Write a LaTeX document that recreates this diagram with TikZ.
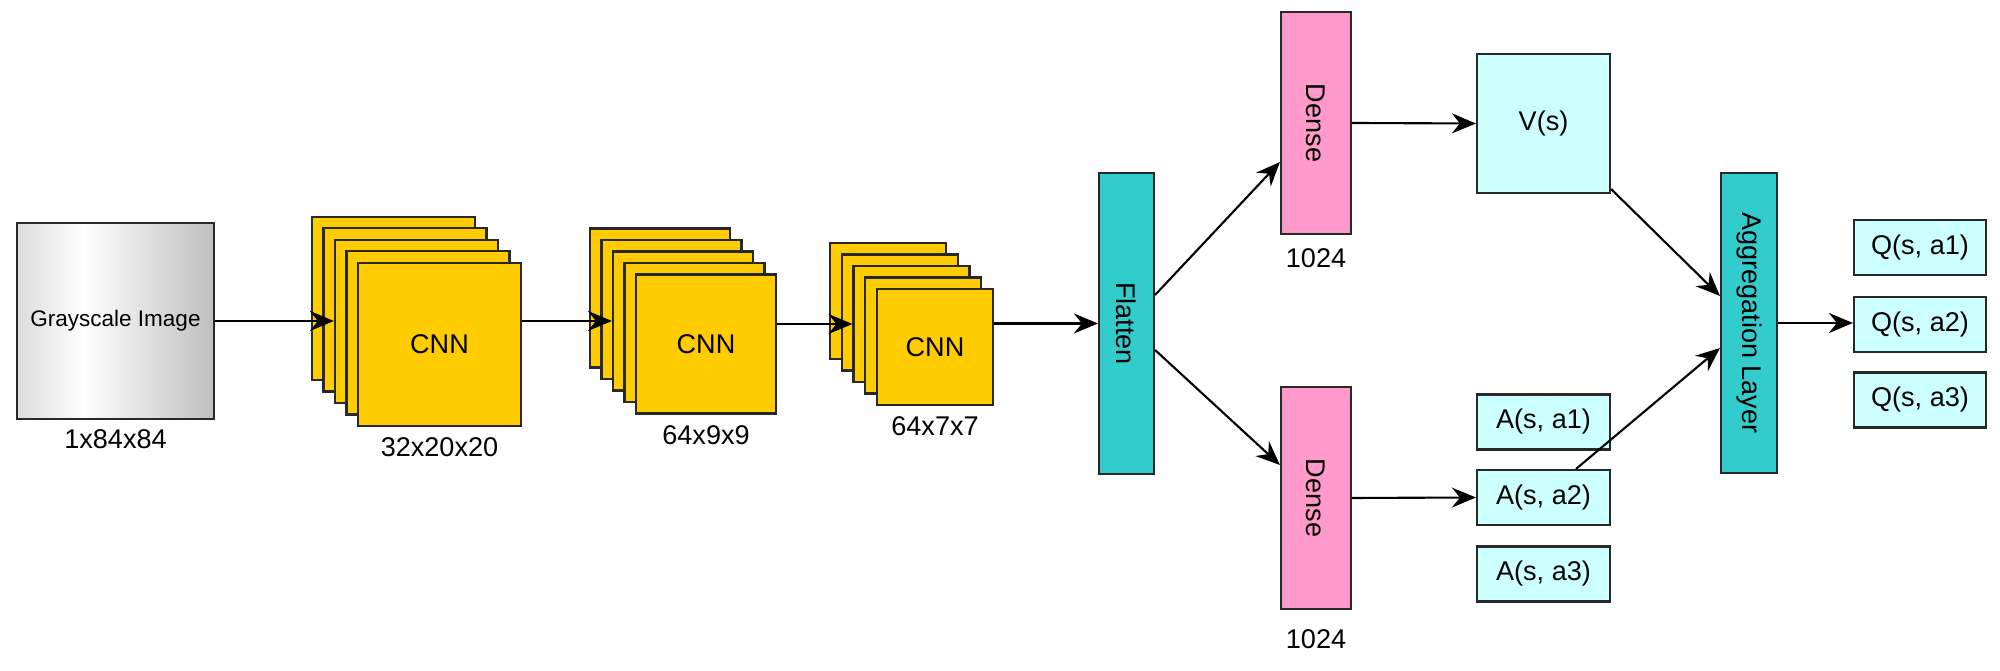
\documentclass[tikz,border=0pt]{standalone}
\usepackage{fontspec}
\setmainfont{Liberation Sans}
\usepackage{xcolor}
\usepackage{graphicx}
\usetikzlibrary{arrows.meta}
\definecolor{cnnColor}{RGB}{255, 204, 0}
\definecolor{denseColor}{RGB}{255, 153, 204}
\definecolor{layerColor}{RGB}{51, 204, 204}
\definecolor{outColor}{RGB}{204, 255, 255}
\definecolor{lineColor}{RGB}{40, 40, 40}
\definecolor{imgLeft}{RGB}{220, 220, 220}
\definecolor{imgRight}{RGB}{190, 190, 190}
\pgfdeclarehorizontalshading{grayImage}{100bp}{color(0bp)=(imgLeft); color(25bp)=(imgLeft); color(42bp)=(white); color(75bp)=(imgRight); color(100bp)=(imgRight)}

\begin{document}
\begin{tikzpicture}[x=0.01cm, y=-0.01cm, font=\fontsize{7.7}{9}\selectfont,
    box/.style={rectangle, draw=lineColor, line width=0.6pt, inner sep=0pt},
    cnn/.style={box, fill=cnnColor},
    dense/.style={box, fill=denseColor, minimum width=0.70cm, minimum height=2.22cm},
    layer/.style={box, fill=layerColor, minimum width=0.56cm, minimum height=3.0cm},
    qval/.style={box, fill=outColor, minimum width=1.32cm, minimum height=0.55cm},
    arr/.style={-{Stealth[length=0.24cm, width=0.2cm, inset=0.08cm]}, line width=0.6pt}]
    \useasboundingbox (0,0) rectangle (2000,671);

    % Input image
    \node[box, shading=grayImage, minimum width=1.97cm, minimum height=1.96cm] (gray) at (115.5,321) {\fontsize{6.4}{8}\selectfont Grayscale Image};
    \node (lgray) at (115.5,439) {1x84x84};

    % Convolution stacks
    \foreach \k in {0,...,3} {
        \node[cnn, minimum width=1.63cm, minimum height=1.63cm] (c1l\k) at ({393.5+11.5*\k},{298.5+11.5*\k}) {};
    }
    \node[cnn, minimum width=1.63cm, minimum height=1.63cm] (c1) at (439.5,344.5) {CNN};
    \node (lc1) at (439.5,447) {32x20x20};

    \foreach \k in {0,...,3} {
        \node[cnn, minimum width=1.40cm, minimum height=1.39cm] (c2l\k) at ({660+11.5*\k},{298+11.5*\k}) {};
    }
    \node[cnn, minimum width=1.40cm, minimum height=1.39cm] (c2) at (706,344) {CNN};
    \node (lc2) at (706,435) {64x9x9};

    \foreach \k in {0,...,3} {
        \node[cnn, minimum width=1.16cm, minimum height=1.16cm] (c3l\k) at ({888+11.75*\k},{301+11.5*\k}) {};
    }
    \node[cnn, minimum width=1.16cm, minimum height=1.16cm] (c3) at (935,347) {CNN};
    \node (lc3) at (935,426) {64x7x7};

    % Dueling heads
    \node[layer, minimum height=3.01cm, minimum width=0.55cm] (flat) at (1126.5,323.5) {\rotatebox{-90}{Flatten}};
    \node[dense] (denseV) at (1316,123) {\rotatebox{-90}{Dense}};
    \node (ldenseV) at (1316,258) {1024};
    \node[dense] (denseA) at (1316,498) {\rotatebox{-90}{Dense}};
    \node (ldenseA) at (1316,639) {1024};

    \node[box, fill=outColor, minimum width=1.33cm, minimum height=1.39cm] (vs) at (1543.5,123.5) {V(s)};
    \node[qval, minimum width=1.33cm] (a1) at (1543.5,422) {A(s, a1)};
    \node[qval, minimum width=1.33cm] (a2) at (1543.5,497.5) {A(s, a2)};
    \node[qval, minimum width=1.33cm] (a3) at (1543.5,574) {A(s, a3)};

    \node[layer] (agg) at (1749,323) {\rotatebox{-90}{Aggregation Layer}};

    \node[qval] (q1) at (1920,247.5) {Q(s, a1)};
    \node[qval] (q2) at (1920,324.5) {Q(s, a2)};
    \node[qval] (q3) at (1920,400) {Q(s, a3)};

    % Connections
    \draw[arr] (gray.east) -- (gray.east -| c1l2.west);
    \draw[arr] (c1.east |- c2l2.west) -- (c2l2.west);
    \draw[arr] (c2.east |- c3l2.west) -- (c3l2.west);
    \draw[arr] (c3.east |- flat.west) -- (flat.west);
    \draw[arr] ([yshift=0.285cm]flat.east) -- ([yshift=-0.39cm]denseV.west);
    \draw[arr] ([yshift=-0.265cm]flat.east) -- ([yshift=0.33cm]denseA.west);
    \draw[arr] (denseV.east) -- (vs.west);
    \draw[arr] (denseA.east) -- (a2.west);
    \draw[arr] ([yshift=0.05cm]vs.south east) -- ([yshift=0.27cm]agg.west);
    \draw[arr] ([xshift=0.325cm]a2.north) -- ([yshift=-0.25cm]agg.west);
    \draw[arr] (agg.east) -- (agg.east -| q2.west);
\end{tikzpicture}
\end{document}
